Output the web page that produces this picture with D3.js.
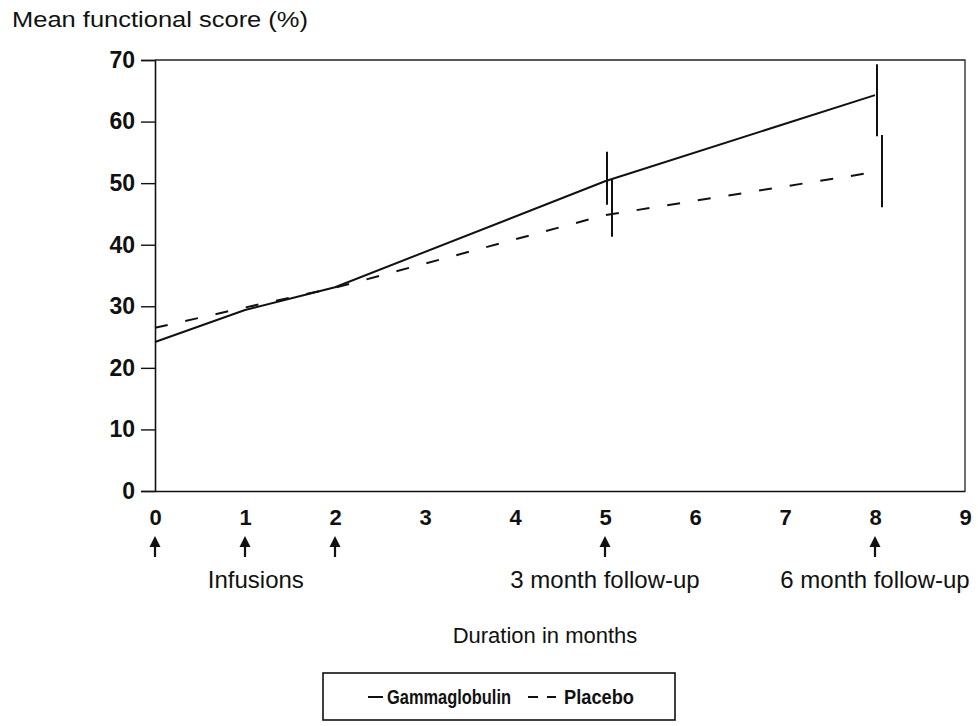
<!DOCTYPE html>
<html>
<head>
<meta charset="utf-8">
<script src="https://cdn.jsdelivr.net/npm/d3@7"></script>
<style>
  body { margin: 0; background: #fff; }
  svg { font-family: "Liberation Sans", Arial, sans-serif; }
</style>
</head>
<body>
<div id="chart"></div>
<script>
// data
const months = [0, 1, 2, 5, 8];
const gammaMean = [24.2, 29.4, 33.1, 50.3, 64.3];
const placeboMean = [26.5, 29.8, 33.0, 44.8, 51.8];

const barMonths = [5, 8];
const gammaLow = [46.5, 57.6];
const gammaHigh = [55.1, 69.3];
const placeboLow = [41.3, 46.1];
const placeboHigh = [50.5, 57.8];

const xTicks = [0, 1, 2, 3, 4, 5, 6, 7, 8, 9];
const yTicks = [0, 10, 20, 30, 40, 50, 60, 70];
const arrowMonths = [0, 1, 2, 5, 8];
const noteText = ['Infusions', '3 month follow-up', '6 month follow-up'];
const noteMonth = [1.12, 5, 8.0];

const width = 978, height = 726;
const ink = '#111';

const svg = d3.select('#chart').append('svg')
    .attr('width', width)
    .attr('height', height);

const x = d3.scaleLinear().domain([0, 9]).range([155, 965]);
const y = d3.scaleLinear().domain([0, 70]).range([491, 60]);

// y axis
const yAxis = svg.append('g')
    .attr('transform', `translate(${x(0)},0)`)
    .call(d3.axisLeft(y).tickValues(yTicks).tickSize(14).tickPadding(6));
yAxis.select('.domain').attr('stroke', ink).attr('stroke-width', 1.6);
yAxis.selectAll('.tick line').attr('stroke', ink).attr('stroke-width', 1.4);
yAxis.selectAll('.tick text')
    .attr('fill', ink)
    .attr('font-size', 23)
    .attr('font-weight', 'bold');

// x axis, labels only
const xAxis = svg.append('g')
    .attr('transform', `translate(0,${y(0)})`)
    .call(d3.axisBottom(x).tickValues(xTicks).tickSize(0).tickPadding(18));
xAxis.select('.domain').attr('stroke', ink).attr('stroke-width', 1.6);
xAxis.selectAll('.tick text')
    .attr('fill', ink)
    .attr('font-size', 22)
    .attr('font-weight', 'bold');

// frame top + right
svg.append('path')
    .attr('d', `M${x(0)},${y(70)}H${x(9)}V${y(0)}`)
    .attr('fill', 'none')
    .attr('stroke', '#222')
    .attr('stroke-width', 1.3);

// lines
const line = d3.line()
    .x((d, i) => x(months[i]))
    .y(d => y(d));

svg.append('path')
    .datum(gammaMean)
    .attr('d', line)
    .attr('fill', 'none')
    .attr('stroke', ink)
    .attr('stroke-width', 2);

svg.append('path')
    .datum(placeboMean)
    .attr('d', line)
    .attr('fill', 'none')
    .attr('stroke', ink)
    .attr('stroke-width', 2)
    .attr('stroke-dasharray', '13,18');

// error bars (small dodge so the two groups don't overlap)
svg.selectAll('.errG')
    .data(barMonths)
    .enter()
    .append('line')
        .attr('class', 'errG')
        .attr('x1', d => x(d) + 2)
        .attr('x2', d => x(d) + 2)
        .attr('y1', (d, i) => y(gammaLow[i]))
        .attr('y2', (d, i) => y(gammaHigh[i]))
        .attr('stroke', ink)
        .attr('stroke-width', 2);

svg.selectAll('.errP')
    .data(barMonths)
    .enter()
    .append('line')
        .attr('class', 'errP')
        .attr('x1', d => x(d) + 7)
        .attr('x2', d => x(d) + 7)
        .attr('y1', (d, i) => y(placeboLow[i]))
        .attr('y2', (d, i) => y(placeboHigh[i]))
        .attr('stroke', ink)
        .attr('stroke-width', 2);

// arrows under the months
const arrows = svg.selectAll('.arrow')
    .data(arrowMonths)
    .enter()
    .append('g')
        .attr('class', 'arrow')
        .attr('transform', d => `translate(${x(d)},536)`);
arrows.append('line')
    .attr('y1', 8).attr('y2', 21)
    .attr('stroke', ink).attr('stroke-width', 2.2);
arrows.append('path')
    .attr('d', 'M0,0L5.5,11L-5.5,11Z')
    .attr('fill', ink);

// notes
svg.selectAll('.note')
    .data(noteText)
    .enter()
    .append('text')
        .attr('class', 'note')
        .attr('x', (d, i) => x(noteMonth[i]))
        .attr('y', 588)
        .attr('text-anchor', 'middle')
        .attr('font-size', 24)
        .attr('fill', ink)
        .text(d => d);

svg.append('text')
    .attr('x', 545)
    .attr('y', 643)
    .attr('text-anchor', 'middle')
    .attr('font-size', 22)
    .attr('fill', ink)
    .text('Duration in months');

// y title
svg.append('text')
    .attr('x', 12)
    .attr('y', 27)
    .attr('font-size', 22)
    .attr('textLength', 296)
    .attr('lengthAdjust', 'spacingAndGlyphs')
    .attr('fill', ink)
    .text('Mean functional score (%)');

// legend
const lg = svg.append('g').attr('transform', 'translate(323,673)');
lg.append('rect')
    .attr('width', 352).attr('height', 47)
    .attr('fill', 'none').attr('stroke', ink).attr('stroke-width', 1.6);
lg.append('line')
    .attr('x1', 45).attr('x2', 60).attr('y1', 24).attr('y2', 24)
    .attr('stroke', ink).attr('stroke-width', 2);
lg.append('text')
    .attr('x', 64).attr('y', 31)
    .attr('font-size', 20).attr('font-weight', 'bold')
    .attr('textLength', 124)
    .attr('lengthAdjust', 'spacingAndGlyphs')
    .attr('fill', ink)
    .text('Gammaglobulin');
lg.append('line')
    .attr('x1', 205).attr('x2', 233).attr('y1', 24).attr('y2', 24)
    .attr('stroke', ink).attr('stroke-width', 2)
    .attr('stroke-dasharray', '10,9');
lg.append('text')
    .attr('x', 241).attr('y', 31)
    .attr('font-size', 20).attr('font-weight', 'bold')
    .attr('textLength', 70)
    .attr('lengthAdjust', 'spacingAndGlyphs')
    .attr('fill', ink)
    .text('Placebo');
</script>
</body>
</html>
